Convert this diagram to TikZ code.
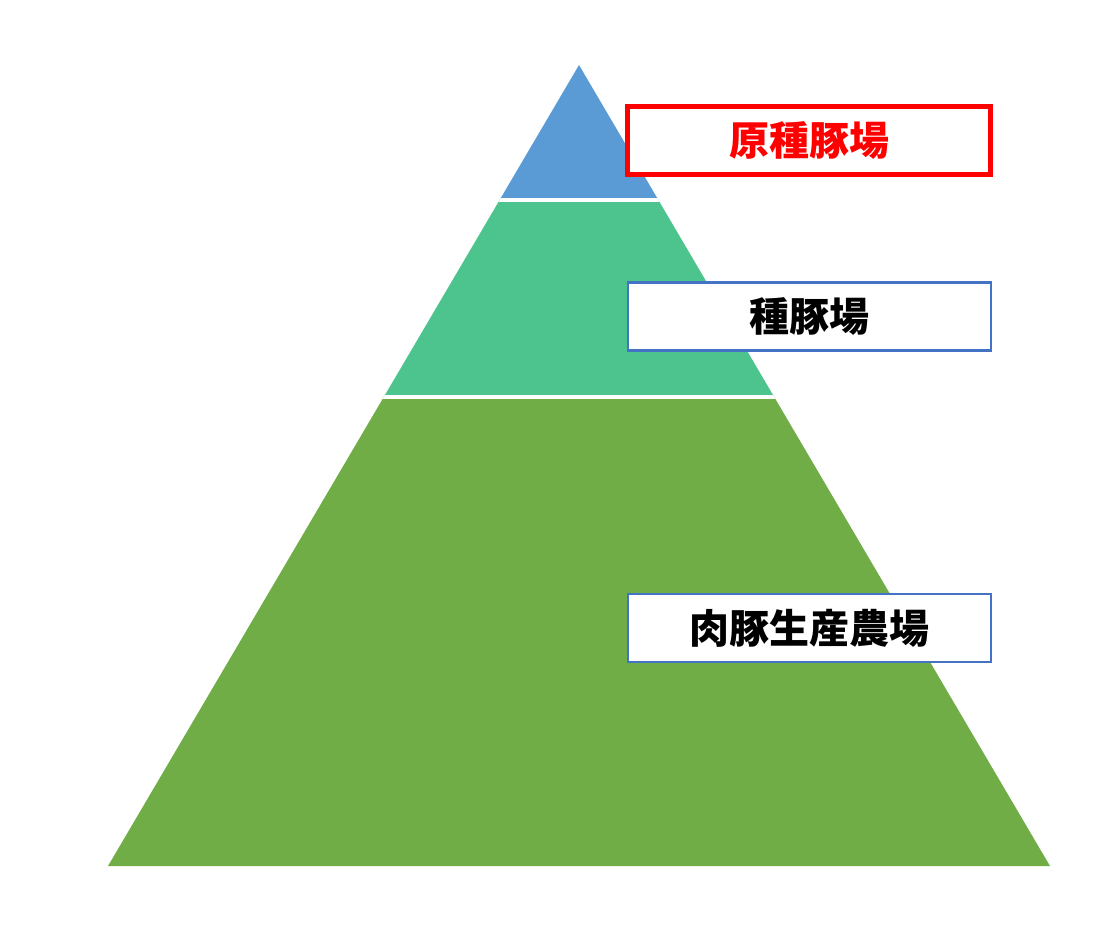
\documentclass[tikz,border=0pt]{standalone}
\usepackage{fontspec}
\newfontfamily\cjk{Noto Sans CJK JP}
\definecolor{topblue}{HTML}{5B9BD5}
\definecolor{midteal}{HTML}{4DC48E}
\definecolor{basegreen}{HTML}{70AD47}
\definecolor{boxblue}{HTML}{4472C4}
\definecolor{boxred}{HTML}{FF0000}
\tikzset{
  label box/.style={draw=boxblue, line width=2.5pt, fill=white, minimum width=363pt, minimum height=68pt, inner sep=0pt, font=\cjk\bfseries\fontsize{40}{44}\selectfont},
  red box/.style={label box, draw=boxred, line width=5pt, text=boxred},
  sep line/.style={white, line width=3.5pt}
}
\begin{document}
\begin{tikzpicture}[x=1pt,y=-1pt]
\useasboundingbox (0,0) rectangle (1114,940);
\coordinate (apex) at (579,65);
\coordinate (bl) at (108,866);
\coordinate (br) at (1050,866);
\begin{scope}
\clip (apex) -- (bl) -- (br) -- cycle;
\fill[topblue] (0,0) rectangle (1114,200);
\fill[midteal] (0,200) rectangle (1114,397);
\fill[basegreen] (0,397) rectangle (1114,940);
\draw[sep line] (0,200) -- (1114,200);
\draw[sep line] (0,397) -- (1114,397);
\end{scope}
\node[red box] (gen) at (809,140.5) {原種豚場};
\node[label box] (breed) at (809.5,316.5) {種豚場};
\node[label box] (farm) at (809.5,628) {肉豚生産農場};
\end{tikzpicture}
\end{document}
